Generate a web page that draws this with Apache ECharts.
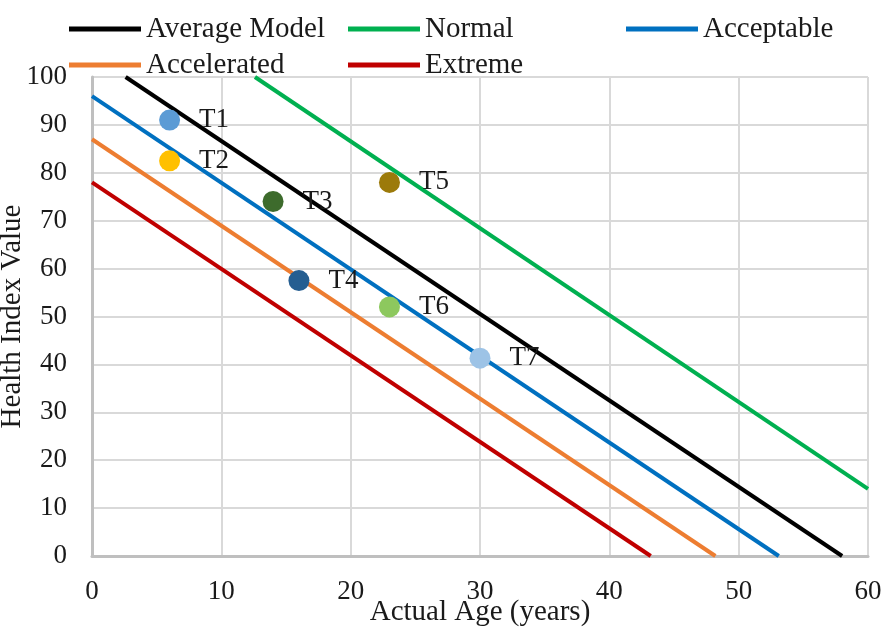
<!DOCTYPE html>
<html>
<head>
<meta charset="utf-8">
<script src="https://cdn.jsdelivr.net/npm/echarts@6/dist/echarts.min.js"></script>
<style>
  html, body { margin: 0; padding: 0; background: #fff; }
  #chart { width: 885px; height: 628px; }
</style>
</head>
<body>
<div id="chart"></div>
<script>
// Degradation lines: [age, health index] end points of each model
const averageModel = [[2.6, 100], [58, 0]];
const normal       = [[12.6, 100], [60, 14]];
const acceptable   = [[0, 96], [53.1, 0]];
const accelerated  = [[0, 87], [48.2, 0]];
const extreme      = [[0, 78], [43.2, 0]];

// Transformer units: name, age, health index, marker colour
const unitNames  = ['T1', 'T2', 'T3', 'T4', 'T5', 'T6', 'T7'];
const unitAges   = [6, 6, 14, 16, 23, 23, 30];
const unitHealth = [91, 82.5, 74, 57.5, 78, 52, 41.3];
const unitColors = ['#5B9BD5', '#FFC000', '#3D6B2C', '#255E91', '#9C7A0A', '#8DC85E', '#9DC3E6'];

const xTicks = [0, 10, 20, 30, 40, 50, 60];
const yTicks = [0, 10, 20, 30, 40, 50, 60, 70, 80, 90, 100];

const serif = '"Liberation Serif", "DejaVu Serif", serif';
const textColor = '#1a1a1a';

const lineSeries = [
  { name: 'Average Model', data: averageModel, color: '#000000' },
  { name: 'Normal',        data: normal,       color: '#00B050' },
  { name: 'Acceptable',    data: acceptable,   color: '#0070C0' },
  { name: 'Accelerated',   data: accelerated,  color: '#ED7D31' },
  { name: 'Extreme',       data: extreme,      color: '#C00000' }
].map(s => ({
  type: 'line',
  name: s.name,
  data: s.data,
  showSymbol: false,
  symbol: 'none',
  lineStyle: { width: 4, color: s.color },
  itemStyle: { color: s.color },
  z: 2,
  animation: false
}));

const unitSeries = {
  type: 'scatter',
  name: 'Units',
  symbolSize: 21,
  z: 5,
  animation: false,
  data: unitNames.map((n, i) => ({
    name: n,
    value: [unitAges[i], unitHealth[i]],
    itemStyle: { color: unitColors[i], opacity: 1 }
  })),
  label: {
    show: true,
    position: 'right',
    distance: 19,
    formatter: p => p.name,
    fontFamily: serif,
    fontSize: 27,
    color: textColor
  }
};

const legendBase = {
  orient: 'vertical',
  itemWidth: 72,
  itemHeight: 5,
  itemGap: 6,
  icon: 'rect',
  top: 9,
  textStyle: { fontFamily: serif, fontSize: 29, lineHeight: 30, color: textColor }
};

const chart = echarts.init(document.getElementById('chart'), null, { renderer: 'canvas' });
chart.setOption({
  backgroundColor: '#ffffff',
  animation: false,
  legend: [
    Object.assign({}, legendBase, { left: 64, data: ['Average Model', 'Accelerated'] }),
    Object.assign({}, legendBase, { left: 343, data: ['Normal', 'Extreme'] }),
    Object.assign({}, legendBase, { left: 621, data: ['Acceptable'] })
  ],
  grid: {
    left: 92, right: 17, top: 77, bottom: 72,
    containLabel: false,
    outerBoundsMode: 'none'
  },
  xAxis: {
    type: 'value',
    min: xTicks[0],
    max: xTicks[xTicks.length - 1],
    interval: 10,
    name: 'Actual Age (years)',
    nameLocation: 'middle',
    nameGap: 42,
    nameMoveOverlap: false,
    nameTextStyle: { fontFamily: serif, fontSize: 29, color: textColor },
    axisLine: { show: true, lineStyle: { color: '#bfbfbf', width: 3 } },
    axisTick: { show: false },
    axisLabel: { fontFamily: serif, fontSize: 27, color: textColor, margin: 22 },
    splitLine: { show: true, lineStyle: { color: '#d9d9d9', width: 2 } }
  },
  yAxis: {
    type: 'value',
    min: yTicks[0],
    max: yTicks[yTicks.length - 1],
    interval: 10,
    name: 'Health Index Value',
    nameLocation: 'middle',
    nameGap: 65,
    nameMoveOverlap: false,
    nameTextStyle: { fontFamily: serif, fontSize: 29, color: textColor },
    axisLine: { show: true, lineStyle: { color: '#bfbfbf', width: 3 } },
    axisTick: { show: false },
    axisLabel: { fontFamily: serif, fontSize: 27, color: textColor, margin: 25 },
    splitLine: { show: true, lineStyle: { color: '#d9d9d9', width: 2 } }
  },
  series: lineSeries.concat([unitSeries])
});
</script>
</body>
</html>
